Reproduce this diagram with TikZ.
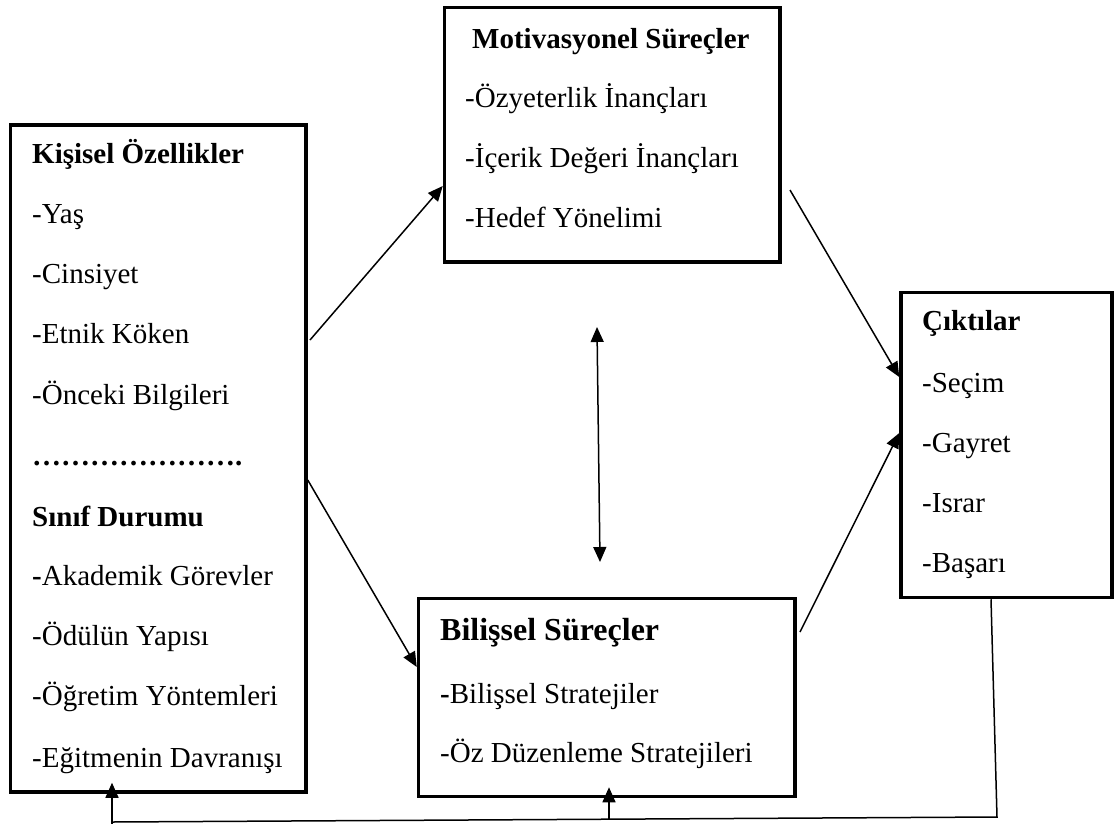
\documentclass[tikz,border=0pt]{standalone}
\usepackage{fontspec}
\setmainfont{Liberation Serif}
\usetikzlibrary{arrows.meta,calc}
\begin{document}
\begin{tikzpicture}[x=1pt,y=-1pt,
  box/.style={draw, line width=3.5pt, inner sep=0pt},
  txt/.style={inner sep=0pt, anchor=base west, font=\fontsize{29}{34}\selectfont},
  big/.style={inner sep=0pt, anchor=base west, font=\fontsize{32}{38}\selectfont\bfseries},
  arr/.style={line width=1.5pt, -{Triangle[length=15pt,width=13pt]}},
  darr/.style={line width=1.5pt, {Triangle[length=15pt,width=13pt]}-{Triangle[length=15pt,width=13pt]}},
  conn/.style={line width=1.5pt}]
\useasboundingbox (0,0) rectangle (1117,823);
% boxes
\node[box, minimum width=295.5pt, minimum height=667pt] (L) at (158.25,458.5) {};
\node[box, minimum width=335.5pt, minimum height=254.5pt] (M) at (612.25,134.75) {};
\node[box, minimum width=211pt, minimum height=305pt] (C) at (1006.5,445) {};
\node[box, minimum width=376.5pt, minimum height=198pt] (B) at (606.75,697.5) {};
% left box texts
\node[txt] (l1) at (32,163) {\textbf{Kişisel Özellikler}};
\node[txt] (l2) at (32,223) {-Yaş};
\node[txt] (l3) at (32,283) {-Cinsiyet};
\node[txt] (l4) at (32,343) {-Etnik Köken};
\node[txt] (l5) at (32,404) {-Önceki Bilgileri};
\node[txt] (l6) at (32,465) {\textbf{\char"2026\char"2026\char"2026\char"2026\char"2026\char"2026\char"2026.}};
\node[txt] (l7) at (32,526) {\textbf{Sınıf Durumu}};
\node[txt] (l8) at (32,585) {\textbf{-}Akademik Görevler};
\node[txt] (l9) at (32,645) {-Ödülün Yapısı};
\node[txt] (l10) at (32,705) {-Öğretim Yöntemleri};
\node[txt] (l11) at (32,767) {-Eğitmenin Davranışı};
% motivational
\node[txt] (m1) at (472,48) {\textbf{Motivasyonel Süreçler}};
\node[txt] (m2) at (465,107) {-Özyeterlik İnançları};
\node[txt] (m3) at (465,167) {-İçerik Değeri İnançları};
\node[txt] (m4) at (465,227) {-Hedef Yönelimi};
% outputs
\node[txt] (c1) at (922,330) {\textbf{Çıktılar}};
\node[txt] (c2) at (922,392) {-Seçim};
\node[txt] (c3) at (922,452) {-Gayret};
\node[txt] (c4) at (922,512) {-Israr};
\node[txt] (c5) at (922,572) {-Başarı};
% cognitive
\node[big] (b1) at (440,640) {Bilişsel Süreçler};
\node[txt] (b2) at (440,703) {\textbf{-}Bilişsel Stratejiler};
\node[txt] (b3) at (440,762) {-Öz Düzenleme Stratejileri};
% connectors
\coordinate (a1) at (310,340);
\draw[arr] (a1) -- (M.west |- 0,186);
\draw[arr] (L.east |- 0,480) -- (B.west |- 0,667);
\coordinate (a3) at (790,190);
\draw[arr] (a3) -- (C.west |- 0,377);
\coordinate (a4) at (800,632);
\draw[arr] (a4) -- (C.west |- 0,433);
\coordinate (d1) at (597,327);
\coordinate (d2) at (600,562);
\draw[darr] (d1) -- (d2);
\coordinate (k1) at (997,817);
\coordinate (k2) at (112,822);
\coordinate (k3) at (609,819.2);
\draw[conn] (C.south -| 991,0) -- (k1) -- (k2);
\draw[arr, shorten >=-11pt] (112,830) -- (L.south -| k2);
\draw[arr, shorten >=-11pt] (k3) -- (B.south -| k3);
\end{tikzpicture}
\end{document}
